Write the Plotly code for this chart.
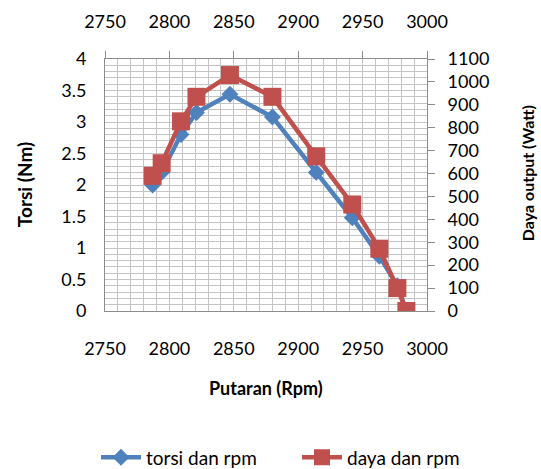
import plotly.graph_objects as go

rpm = [2787, 2794, 2809, 2821, 2847, 2880, 2914, 2942, 2963, 2977, 2984]
torsi = [2.0, 2.2, 2.8, 3.15, 3.44, 3.08, 2.2, 1.48, 0.87, 0.4, 0.0]
daya = [590, 645, 828, 935, 1030, 935, 675, 465, 272, 100, 0]

x_ticks = [2750, 2800, 2850, 2900, 2950, 3000]
y_ticks = [0, 0.5, 1, 1.5, 2, 2.5, 3, 3.5, 4]
y_tick_text = ["0", "0.5", "1", "1.5", "2", "2.5", "3", "3.5", "4"]
y2_ticks = list(range(0, 1101, 100))

BLUE = "#4F81BD"
RED = "#C0504D"
GRID = "#C4C4C4"
AXIS = "#8C8C8C"
FONT = "Lato"

fig = go.Figure()
fig.add_trace(go.Scatter(
    x=rpm, y=torsi, name="torsi dan rpm", mode="lines+markers",
    line=dict(color=BLUE, width=4.5),
    marker=dict(symbol="diamond", size=13, color=BLUE),
    xaxis="x", yaxis="y",
))
fig.add_trace(go.Scatter(
    x=rpm, y=daya, name="daya dan rpm", mode="lines+markers",
    line=dict(color=RED, width=4.5),
    marker=dict(symbol="square", size=18, color=RED),
    xaxis="x2", yaxis="y2",
))

tickfont = dict(family=FONT, size=18, color="#000000")

fig.update_layout(
    width=541, height=469,
    margin=dict(l=105, r=114, t=59, b=158, autoexpand=False),
    paper_bgcolor="white", plot_bgcolor="white",
    font=dict(family=FONT, size=17, color="#000000"),
    showlegend=True,
    legend=dict(orientation="h", x=(96 - 105) / 322, xanchor="left",
                y=(310.7 - 457) / 251.7, yanchor="middle",
                font=dict(family=FONT, size=19), entrywidth=146, entrywidthmode="pixels",
                tracegroupgap=0, itemwidth=40),
    xaxis=dict(range=[2750, 3000], tickvals=x_ticks, ticks="", showline=True,
               linecolor=AXIS, linewidth=1, showgrid=True, gridcolor=GRID, gridwidth=1,
               minor=dict(dtick=10, showgrid=True, gridcolor=GRID, gridwidth=1),
               tickfont=tickfont, ticklabelstandoff=21, zeroline=False),
    xaxis2=dict(range=[2750, 3000], tickvals=x_ticks, overlaying="x", side="top",
                anchor="y", ticks="outside", ticklen=7, tickcolor=AXIS,
                showline=True, linecolor=AXIS, linewidth=1, showgrid=False,
                tickfont=tickfont, ticklabelstandoff=16, zeroline=False),
    yaxis=dict(range=[0, 4], tickvals=y_ticks, ticktext=y_tick_text, ticks="",
               showline=True, linecolor=AXIS, linewidth=1, showgrid=True,
               gridcolor=GRID, gridwidth=1,
               minor=dict(dtick=0.1, showgrid=True, gridcolor=GRID, gridwidth=1),
               tickfont=tickfont, ticklabelstandoff=14, zeroline=False),
    yaxis2=dict(range=[0, 1100], tickvals=y2_ticks, overlaying="y", side="right",
                anchor="x", ticks="outside", ticklen=7, tickcolor=AXIS,
                showline=True, linecolor=AXIS, linewidth=1, showgrid=False,
                tickfont=tickfont, ticklabelstandoff=9, zeroline=False),
)

fig.add_annotation(text="<b>Torsi (Nm)</b>", xref="paper", yref="paper",
                   x=(24 - 105) / 322, y=(310.7 - 185) / 251.7, xanchor="center",
                   yanchor="middle", textangle=-90, showarrow=False,
                   font=dict(family=FONT, size=19))
fig.add_annotation(text="<b>Daya output (Watt)</b>", xref="paper", yref="paper",
                   x=(527 - 105) / 322, y=(310.7 - 173) / 251.7, xanchor="center",
                   yanchor="middle", textangle=-90, showarrow=False,
                   font=dict(family=FONT, size=16))
fig.add_annotation(text="<b>Putaran (Rpm)</b>", xref="paper", yref="paper",
                   x=(266 - 105) / 322, y=(310.7 - 388) / 251.7, xanchor="center",
                   yanchor="middle", showarrow=False, font=dict(family=FONT, size=18))

fig.write_html("out.html", config={"displayModeBar": False},
               post_script="document.body.style.margin='0';document.body.style.overflow='hidden';")
